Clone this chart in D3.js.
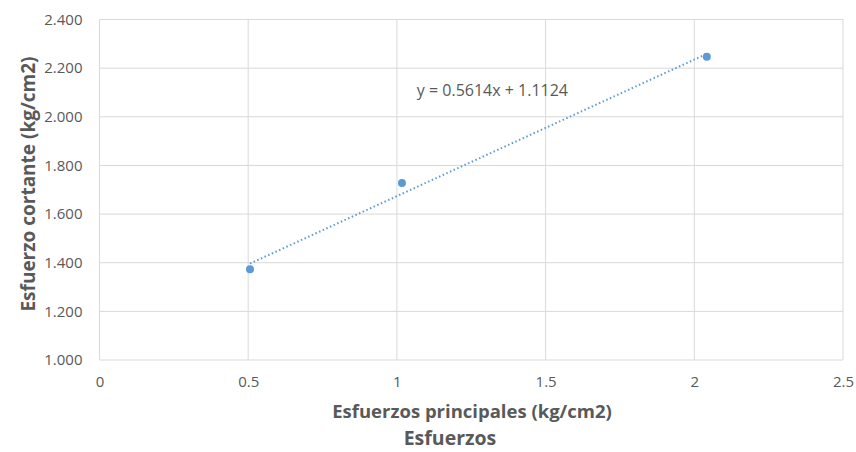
<!DOCTYPE html>
<html><head><meta charset="utf-8">
<script src="https://cdn.jsdelivr.net/npm/d3@7"></script>
<style>
body{margin:0;background:#fff;}
text{font-family:"Open Sans",sans-serif;}
</style></head>
<body>
<svg id="c" width="856" height="452"></svg>
<script>
const xValues = [0.506, 1.017, 2.042];
const yValues = [1.373, 1.728, 2.247];
const trendSlope = 0.5614;
const trendIntercept = 1.1124;
const xTicks = [0, 0.5, 1, 1.5, 2, 2.5];
const yTicks = [1.0, 1.2, 1.4, 1.6, 1.8, 2.0, 2.2, 2.4];
const chartTitle = "Esfuerzos";
const xTitle = "Esfuerzos principales (kg/cm2)";
const yTitle = "Esfuerzo cortante (kg/cm2)";
const eqLabel = "y = 0.5614x + 1.1124";

const svg = d3.select("#c");
const L = 99.5, R = 843, T = 19.5, B = 360;
const x = d3.scaleLinear().domain([0, 2.5]).range([L, R]);
const y = d3.scaleLinear().domain([1.0, 2.4]).range([B, T]);
const grid = "#d9d9d9", txt = "#595959";

svg.append("g").selectAll("line").data(yTicks).join("line")
  .attr("x1", L).attr("x2", R).attr("y1", d => y(d)).attr("y2", d => y(d))
  .attr("stroke", grid).attr("stroke-width", 1);
svg.append("g").selectAll("line").data(xTicks).join("line")
  .attr("y1", T).attr("y2", B).attr("x1", d => x(d)).attr("x2", d => x(d))
  .attr("stroke", grid).attr("stroke-width", 1);

const yAxis = svg.append("g").attr("transform", `translate(${L},0)`)
  .call(d3.axisLeft(y).tickValues(yTicks).tickFormat(d => d3.format(".3f")(d)).tickSize(0).tickPadding(17));
const xAxis = svg.append("g").attr("transform", `translate(0,${B})`)
  .call(d3.axisBottom(x).tickValues(xTicks).tickFormat(d => String(d)).tickSize(0).tickPadding(16));
[yAxis, xAxis].forEach(a => {
  a.select(".domain").remove();
  a.selectAll("text").attr("fill", txt).style("font-size", "15px").style("font-family", "'Open Sans', sans-serif");
});

const x0 = d3.min(xValues), x1 = d3.max(xValues);
svg.append("line")
  .attr("x1", x(x0)).attr("y1", y(trendSlope * x0 + trendIntercept))
  .attr("x2", x(x1)).attr("y2", y(trendSlope * x1 + trendIntercept))
  .attr("stroke", "#5b9bd5").attr("stroke-width", 2).attr("stroke-dasharray", "1.5,2.5");

svg.append("g").selectAll("circle").data(xValues).join("circle")
  .attr("cx", d => x(d)).attr("cy", (d, i) => y(yValues[i])).attr("r", 4)
  .attr("fill", "#5b9bd5");

svg.append("text").attr("x", x(1.067)).attr("y", y(2.2) + 28)
  .attr("fill", txt).style("font-size", "16px").text(eqLabel);

svg.append("text").attr("x", 472).attr("y", 418).attr("text-anchor", "middle")
  .attr("fill", txt).style("font-size", "18.5px").style("font-weight", "bold").text(xTitle);
svg.append("text").attr("x", 450).attr("y", 445).attr("text-anchor", "middle")
  .attr("fill", txt).style("font-size", "19.5px").style("font-weight", "bold").text(chartTitle);
svg.append("text").attr("transform", `translate(35,184) rotate(-90)`).attr("text-anchor", "middle")
  .attr("fill", txt).style("font-size", "19px").style("font-weight", "bold").text(yTitle);
</script>
</body></html>
